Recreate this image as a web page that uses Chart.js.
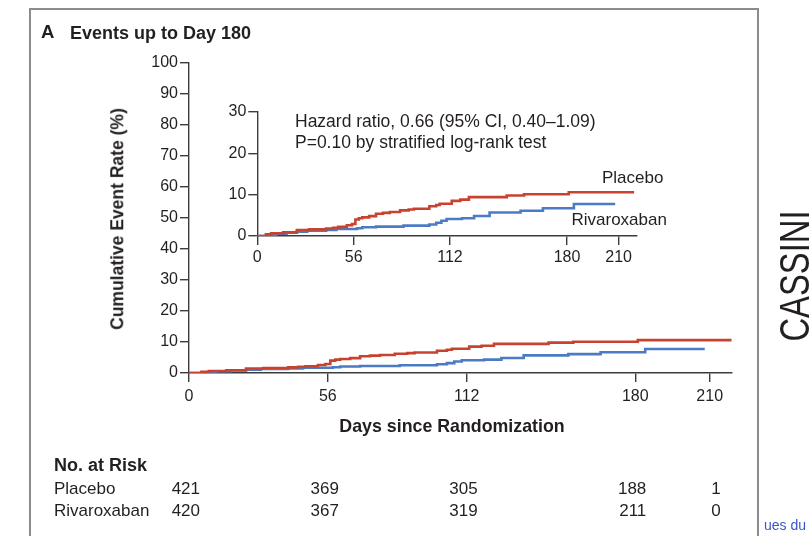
<!DOCTYPE html>
<html>
<head>
<meta charset="utf-8">
<title>CASSINI – Events up to Day 180</title>
<script src="https://cdn.jsdelivr.net/npm/chart.js@4.4.1/dist/chart.umd.min.js"></script>
<style>
  html, body { margin: 0; padding: 0; background: #fff; }
  body { width: 811px; height: 536px; position: relative; overflow: hidden;
         font-family: "Liberation Sans", Arial, sans-serif; color: #231f20; }
  canvas { position: absolute; left: 0; top: 0; }
  .frame { position: absolute; left: 28.5px; top: 7.5px; width: 730.5px; height: 560px;
           border: 2px solid #8c8c8c; border-bottom: none; box-sizing: border-box; }
  .t { position: absolute; white-space: nowrap; line-height: 1; }
</style>
</head>
<body>
<div class="frame"></div>
<canvas id="main" width="811" height="536"></canvas>
<canvas id="inset" width="811" height="536"></canvas>
<script>
// Kaplan-Meier cumulative event rates (%), step at each listed day
const xTicks = [0, 56, 112, 180, 210];

const placeboDays = [0, 5, 8, 15, 23, 30, 40, 44, 47, 52, 55, 57, 59, 61, 65, 69, 73, 77, 83, 88, 91, 100, 104, 106, 113, 118, 123, 145, 155, 181, 219];
const placeboRate = [0, 0.4, 0.65, 0.9, 1.45, 1.6, 1.8, 2.0, 2.2, 2.6, 2.9, 4.0, 4.3, 4.5, 4.8, 5.4, 5.6, 5.8, 6.2, 6.4, 6.6, 7.2, 7.5, 7.8, 8.5, 8.8, 9.4, 9.8, 10.1, 10.6, 10.6];

const rivaroxabanDays = [0, 6, 11, 17, 23, 29, 40, 46, 58, 61, 69, 85, 100, 104, 107, 110, 119, 126, 135, 153, 166, 184, 208];
const rivaroxabanRate = [0, 0.25, 0.55, 0.8, 1.05, 1.3, 1.45, 1.7, 1.86, 2.1, 2.26, 2.5, 2.8, 3.2, 3.7, 4.1, 4.3, 4.85, 5.7, 6.1, 6.7, 7.75, 7.75];

// numbers at risk at each x tick
const placeboAtRisk = [421, 369, 305, 188, 1];
const rivaroxabanAtRisk = [420, 367, 319, 211, 0];

const RED = '#c7432f';
const BLUE = '#4b7bc3';
const INK = '#231f20';
const AXIS = '#3c3c3c';
const FONT = '"Liberation Sans", Arial, sans-serif';

function pts(days, vals) {
    return days.map((d, i) => ({ x: d, y: vals[i] }));
}

function series(label, days, vals, color) {
    return {
        label: label,
        data: pts(days, vals),
        borderColor: color,
        borderWidth: 2.6,
        stepped: true,
        pointRadius: 0,
        fill: false
    };
}

// text helper: x / baseline in page pixels
function put(text, x, base, size, opts) {
    opts = opts || {};
    const el = document.createElement('div');
    el.className = 't';
    el.textContent = text;
    el.style.fontSize = size + 'px';
    if (opts.bold) el.style.fontWeight = 'bold';
    if (opts.color) el.style.color = opts.color;
    el.style.left = x + 'px';
    el.style.top = (base - 0.847 * size) + 'px';
    if (opts.align === 'center') el.style.transform = 'translateX(-50%)';
    if (opts.align === 'right') el.style.transform = 'translateX(-100%)';
    document.body.appendChild(el);
    return el;
}

// rotated text reading bottom to top, centred on (cx, cy)
function putUp(text, cx, cy, size, opts) {
    opts = opts || {};
    const el = document.createElement('div');
    el.className = 't';
    el.textContent = text;
    el.style.fontSize = size + 'px';
    if (opts.bold) el.style.fontWeight = 'bold';
    el.style.left = cx + 'px';
    el.style.top = cy + 'px';
    el.style.transform = 'translate(-50%, -50%) rotate(-90deg)' + (opts.squeeze ? ' scaleX(' + opts.squeeze + ')' : '');
    document.body.appendChild(el);
    return el;
}

function axisOpts(min, max, extra) {
    return Object.assign({
        type: 'linear',
        min: min,
        max: max,
        grid: { drawOnChartArea: false, drawTicks: true, tickLength: 9, color: AXIS, lineWidth: 1.4 },
        border: { display: true, color: AXIS, width: 1.4 },
        ticks: { color: INK, font: { family: FONT, size: 16 }, padding: 2 }
    }, extra);
}

const mainChart = new Chart(document.getElementById('main'), {
    type: 'line',
    data: {
        datasets: [
            series('Placebo', placeboDays, placeboRate, RED),
            series('Rivaroxaban', rivaroxabanDays, rivaroxabanRate, BLUE)
        ]
    },
    options: {
        responsive: false,
        animation: false,
        events: [],
        layout: { padding: { left: 0, right: 79.5, top: 63, bottom: 0 } },
        plugins: { legend: { display: false }, tooltip: { enabled: false } },
        scales: {
            x: axisOpts(0, 218.8, {
                afterBuildTicks: s => { s.ticks = xTicks.map(v => ({ value: v })); },
                afterFit: s => { s.height = 163; },
                ticks: { color: INK, font: { family: FONT, size: 16 }, padding: 5, autoSkip: false, maxRotation: 0 }
            }),
            y: axisOpts(0, 100, {
                afterFit: s => { s.width = 189; },
                ticks: { color: INK, font: { family: FONT, size: 16 }, padding: 2, stepSize: 10 }
            })
        }
    }
});

const insetChart = new Chart(document.getElementById('inset'), {
    type: 'line',
    data: {
        datasets: [
            series('Placebo', placeboDays, placeboRate, RED),
            series('Rivaroxaban', rivaroxabanDays, rivaroxabanRate, BLUE)
        ]
    },
    options: {
        responsive: false,
        animation: false,
        events: [],
        layout: { padding: { left: 0, right: 174.3, top: 112, bottom: 0 } },
        plugins: { legend: { display: false }, tooltip: { enabled: false } },
        scales: {
            x: axisOpts(0, 220.5, {
                afterBuildTicks: s => { s.ticks = xTicks.map(v => ({ value: v })); },
                afterFit: s => { s.height = 300; },
                ticks: { color: INK, font: { family: FONT, size: 16 }, padding: 3, autoSkip: false, maxRotation: 0 }
            }),
            y: axisOpts(0, 30, {
                afterFit: s => { s.width = 257.3; },
                ticks: { color: INK, font: { family: FONT, size: 16 }, padding: 2, stepSize: 10 }
            })
        }
    }
});

// headings and labels
put('A', 41, 39, 18.5, { bold: true });
put('Events up to Day 180', 70, 39, 18, { bold: true });
putUp('Cumulative Event Rate (%)', 118, 218.5, 17.5, { bold: true });
put('Days since Randomization', 452, 433, 17.8, { bold: true, align: 'center' });

put('Hazard ratio, 0.66 (95% CI, 0.40–1.09)', 295, 128.3, 17.5);
put('P=0.10 by stratified log-rank test', 295, 149, 17.5);
put('Placebo', 602, 183.3, 17);
put('Rivaroxaban', 571.5, 225, 17);

// number at risk table, right edges just past the x ticks
put('No. at Risk', 54, 471, 18, { bold: true });
put('Placebo', 54, 494.5, 17);
put('Rivaroxaban', 54, 516, 17);
const xs = mainChart.scales.x;
xTicks.forEach((d, i) => {
    const px = xs.getPixelForValue(d) + 11;
    put(String(placeboAtRisk[i]), px, 494.5, 17, { align: 'right' });
    put(String(rivaroxabanAtRisk[i]), px, 516, 17, { align: 'right' });
});

putUp('CASSINI', 795.4, 276, 42, { squeeze: 0.78 });
put('ues du', 764, 530, 14, { color: '#3a57c9' });
</script>
</body>
</html>
